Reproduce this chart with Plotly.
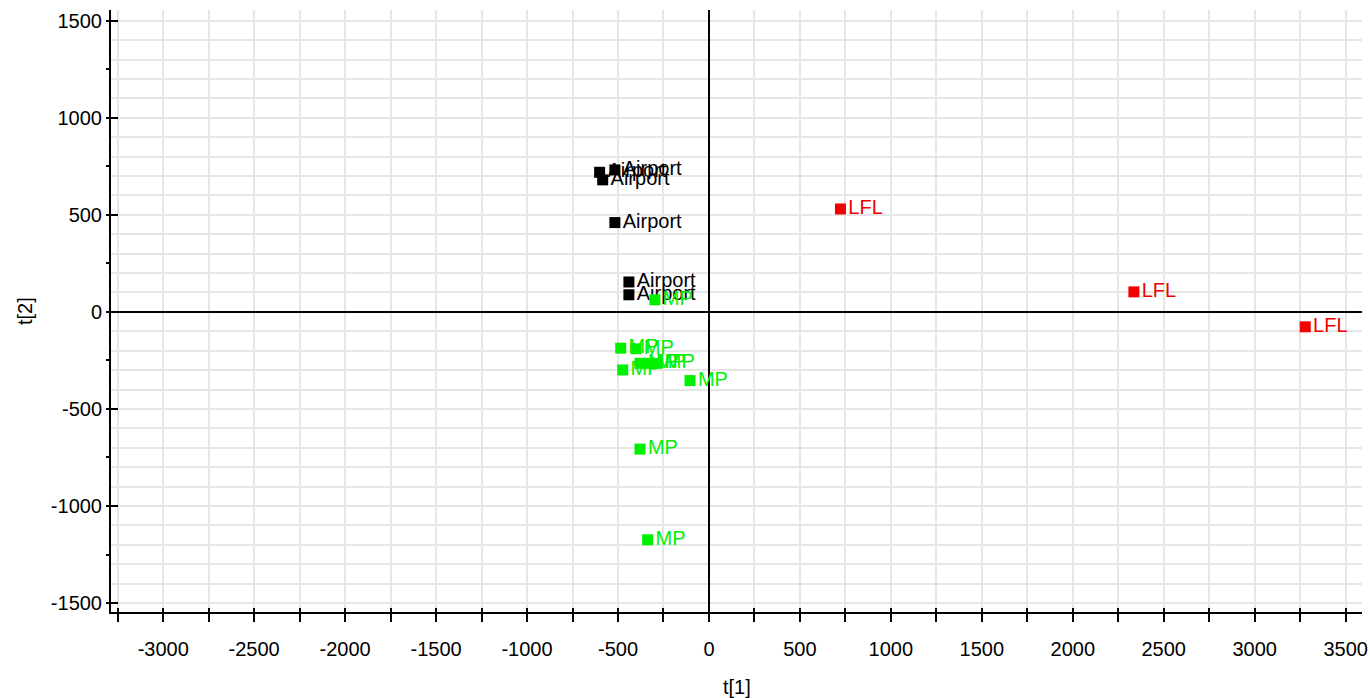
import plotly.graph_objects as go

# Score plot: t[1] vs t[2], one group per sampling site
airport_t1 = [-601, -517, -584, -517, -440, -440]
airport_t2 = [719, 731, 680, 460, 154, 88]

lfl_t1 = [723, 2336, 3278]
lfl_t2 = [530, 103, -77]

mp_t1 = [-297, -485, -401, -379, -335, -286, -474, -104, -379, -337]
mp_t2 = [62, -187, -190, -265, -265, -265, -299, -354, -707, -1174]

groups = [
    ("Airport", airport_t1, airport_t2, "#000000"),
    ("LFL", lfl_t1, lfl_t2, "#f00000"),
    ("MP", mp_t1, mp_t2, "#00f000"),
]

x_range = [-3287, 3590]
y_range = [-1546, 1555]

x_ticks = list(range(-3250, 3501, 250))
x_text = [str(v) if v % 500 == 0 else "" for v in x_ticks]
y_ticks = list(range(-1500, 1501, 250))
y_text = [str(v) if v % 500 == 0 else "" for v in y_ticks]
y_major = list(range(-1500, 1501, 500))

FONT = "Liberation Sans, Arial, sans-serif"
GRID = "#e6e6e6"

fig = go.Figure()

for name, xs, ys, color in groups:
    fig.add_trace(go.Scatter(
        x=xs, y=ys, mode="markers+text", name=name,
        text=[name] * len(xs), textposition="middle right",
        textfont=dict(family=FONT, size=20, color=color),
        marker=dict(symbol="square", size=11, color=color, line=dict(width=0)),
        showlegend=False,
    ))

# empty traces so the overlaid tick axes get drawn
for xa, ya in [("x", "y2"), ("x", "y3"), ("x2", "y")]:
    fig.add_trace(go.Scatter(x=[], y=[], xaxis=xa, yaxis=ya,
                             showlegend=False, hoverinfo="skip"))

fig.update_layout(
    width=1370, height=698,
    margin=dict(l=111, r=8, t=10, b=86),
    paper_bgcolor="white", plot_bgcolor="white",
    font=dict(family=FONT, size=20, color="black"),
    xaxis=dict(
        range=x_range, automargin=False,
        tickmode="array", tickvals=x_ticks, ticktext=x_text,
        ticks="outside", ticklen=8, tickwidth=1.5, tickcolor="black",
        tickfont=dict(size=20), ticklabelstandoff=10,
        showline=True, linecolor="black", linewidth=1.5,
        showgrid=True, gridcolor=GRID, gridwidth=1.5,
        zeroline=True, zerolinecolor="black", zerolinewidth=1.5,
    ),
    xaxis2=dict(
        range=x_range, automargin=False, overlaying="x", anchor="y", side="bottom",
        tickmode="array", tickvals=x_ticks, showticklabels=False,
        ticks="inside", ticklen=4, tickwidth=1.5, tickcolor="black",
        showgrid=False, zeroline=False, showline=False,
    ),
    yaxis=dict(
        range=y_range, automargin=False,
        tickmode="linear", tick0=0, dtick=100,
        showticklabels=False, ticks="",
        showline=True, linecolor="black", linewidth=1.5,
        showgrid=True, gridcolor=GRID, gridwidth=1.5,
        zeroline=True, zerolinecolor="black", zerolinewidth=1.5,
    ),
    yaxis2=dict(
        range=y_range, automargin=False, overlaying="y", anchor="x", side="left",
        tickmode="array", tickvals=y_ticks, ticktext=y_text,
        ticks="outside", ticklen=4, tickwidth=1.5, tickcolor="black",
        tickfont=dict(size=20),
        showgrid=False, zeroline=False, showline=False,
    ),
    yaxis3=dict(
        range=y_range, automargin=False, overlaying="y", anchor="x", side="left",
        tickmode="array", tickvals=y_major, showticklabels=False,
        ticks="inside", ticklen=7, tickwidth=1.5, tickcolor="black",
        showgrid=False, zeroline=False, showline=False,
    ),
    annotations=[
        dict(text="t[1]", xref="paper", yref="paper", x=0.5, y=-0.1246,
             xanchor="center", yanchor="middle", showarrow=False,
             font=dict(family=FONT, size=20, color="black")),
        dict(text="t[2]", xref="paper", yref="paper", x=-0.0687, y=0.5,
             xanchor="center", yanchor="middle", textangle=-90, showarrow=False,
             font=dict(family=FONT, size=20, color="black")),
    ],
)

fig.write_html("out.html")
